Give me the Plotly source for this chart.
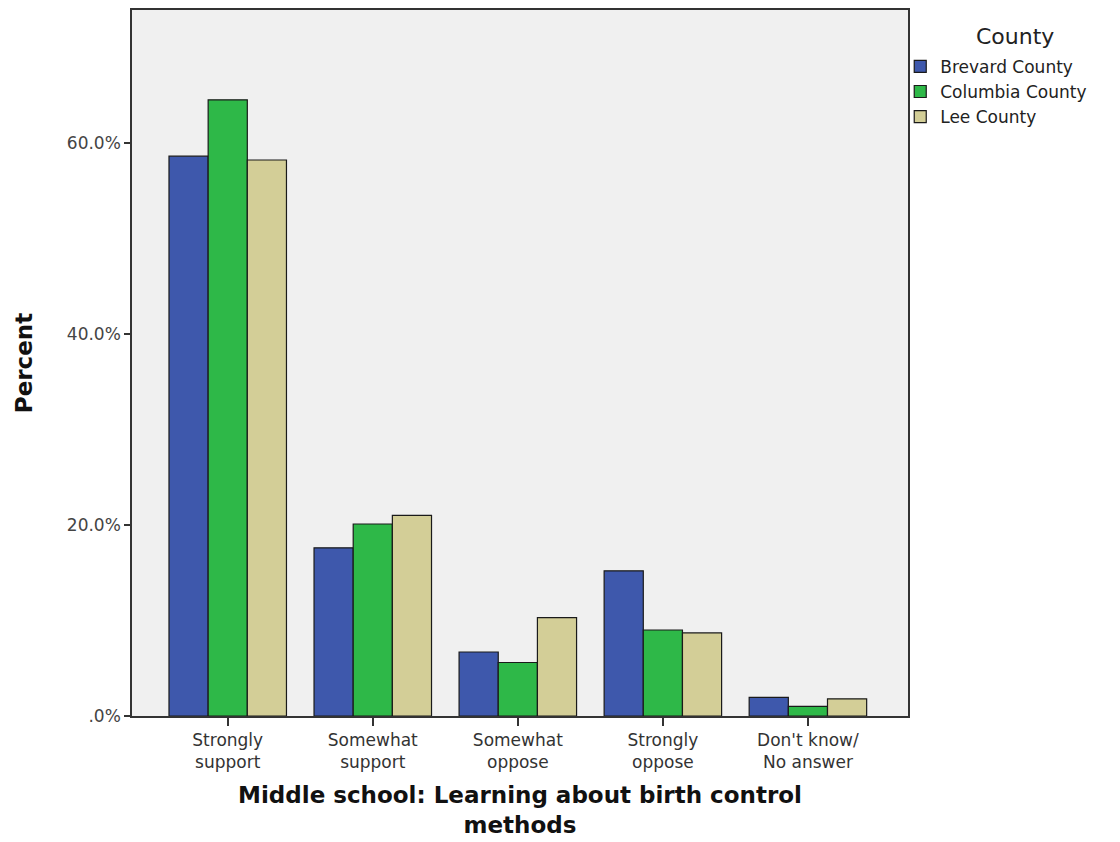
import plotly.graph_objects as go

categories = ["Strongly<br>support", "Somewhat<br>support", "Somewhat<br>oppose", "Strongly<br>oppose", "Don't know/<br>No answer"]
brevard = [58.6, 17.6, 6.7, 15.2, 1.95]
columbia = [64.5, 20.1, 5.6, 9.0, 1.0]
lee = [58.2, 21.0, 10.3, 8.7, 1.8]
series_names = ["Brevard County", "Columbia County", "Lee County"]
colors = ["#3e58ac", "#2eb848", "#d3ce97"]
ytick_vals = [0, 20, 40, 60]
ytick_text = [".0%", "20.0%", "40.0%", "60.0%"]

fig = go.Figure()
for name, vals, col in zip(series_names, [brevard, columbia, lee], colors):
    fig.add_trace(go.Bar(
        x=list(range(len(categories))), y=vals, name=name,
        marker=dict(color=col, line=dict(color="#1a1a1a", width=1.2)),
    ))

font_family = "DejaVu Sans"
fig.update_layout(
    width=1120, height=842,
    margin=dict(l=124, r=220, t=0, b=134),
    paper_bgcolor="white", plot_bgcolor="#f0f0f0",
    barmode="group", bargap=0.19, bargroupgap=0,
    font=dict(family=font_family, color="#333333"),
    showlegend=True,
    legend=dict(
        x=0.99, xanchor="left", y=0.945, yanchor="top",
        font=dict(size=17, color="#222"),
        tracegroupgap=0, itemwidth=30,
        bgcolor="rgba(0,0,0,0)",
    ),
    annotations=[dict(
        text="County", xref="paper", yref="paper", x=1.138, y=0.963,
        xanchor="center", yanchor="middle", showarrow=False,
        font=dict(size=22, color="#222"),
    )],
    xaxis=dict(
        range=[-0.66, 4.69],
        tickmode="array", tickvals=list(range(len(categories))), ticktext=categories,
        ticks="outside", ticklen=8, tickcolor="#333", tickwidth=1.5,
        showline=True, linecolor="#333", linewidth=1.5, mirror=True,
        showgrid=False, zeroline=False,
        tickfont=dict(size=17, color="#333"),
        title=dict(text="<b>Middle school: Learning about birth control<br>methods</b>",
                   font=dict(size=23, color="#111"), standoff=16),
    ),
    yaxis=dict(
        range=[0, 73.9],
        tickmode="array", tickvals=ytick_vals, ticktext=ytick_text,
        ticks="outside", ticklen=6, tickcolor="#333", tickwidth=1.5,
        showline=True, linecolor="#333", linewidth=1.5, mirror=True,
        showgrid=False, zeroline=False,
        tickfont=dict(size=17, color="#444"),
        title=dict(text="<b>Percent</b>", font=dict(size=23, color="#111"), standoff=28),
    ),
)

fig.write_html("out.html")
